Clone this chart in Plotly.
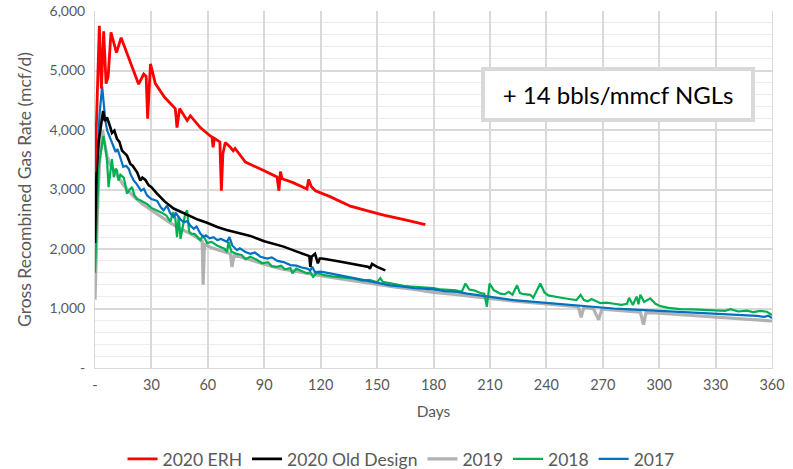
import plotly.graph_objects as go

# 2020 ERH
erh_days = [0, 1, 2.3, 3.4, 4.6, 5.9, 7, 8.5, 11.4, 13.9, 18, 23.2, 25.9, 27.2, 28, 28.8, 29.5,
            32.1, 37, 42.7, 43.6, 45, 49, 50.7, 56, 61.3, 62.2, 62.8, 63.5, 66.4, 67.2, 68, 69.3,
            72, 73.5, 74.5, 80, 89.7, 96.8, 97.8, 98.6, 99.5, 105, 112.7, 113.6, 115, 117.2, 125,
            135.8, 145, 153.5, 165, 175.7]
erh_rate = [3300, 4300, 5750, 4700, 5660, 4780, 4900, 5640, 5300, 5550, 5200, 4770, 4940, 4900,
            4190, 4700, 5110, 4780, 4550, 4360, 4040, 4360, 4160, 4240, 4040, 3900, 3880, 3710,
            3860, 3800, 2980, 3600, 3790, 3710, 3650, 3690, 3460, 3320, 3210, 2980, 3300, 3180,
            3120, 3010, 3170, 3050, 2980, 2880, 2720, 2640, 2570, 2490, 2410]

# 2020 Old Design
old_days = [0, 0.8, 2, 3.3, 4.3, 5.2, 6.4, 8.2, 9, 10.3, 11.7, 13, 14.4, 15.5, 17, 18.8, 20, 22.4,
            24.1, 25.2, 26.8, 28.6, 30, 33, 37, 41.8, 47.2, 50.7, 55, 59.6, 65, 70, 76, 82.6, 90,
            100.3, 107, 112.8, 114, 114.5, 115.2, 117, 118.5, 119.5, 120.7, 130, 140, 145.5, 146.2,
            147.3, 150, 154.4]
old_rate = [2100, 3300, 3820, 4150, 4320, 4150, 4210, 4040, 3950, 3990, 3850, 3800, 3650, 3620,
            3570, 3430, 3400, 3290, 3150, 3200, 3160, 3070, 3040, 2930, 2800, 2680, 2600, 2540,
            2490, 2440, 2370, 2320, 2270, 2220, 2130, 2040, 1960, 1900, 1880, 1700, 1870, 1920,
            1760, 1840, 1840, 1790, 1730, 1700, 1670, 1750, 1700, 1640]

# 2019
y2019_days = [0, 0.5, 1.5, 2.5, 4, 5, 6.5, 8, 10, 12, 15, 18, 21, 25, 30, 35, 40, 45, 50, 54, 57,
              57.5, 58.2, 62, 66, 70, 72, 72.8, 74, 80, 85, 90, 95, 100, 110, 120, 130, 140, 150,
              160, 170, 180, 190, 200, 210, 220, 230, 240, 250, 257, 258.5, 260, 265, 267.8, 269.5,
              275, 280, 285, 290, 291.7, 293, 300, 310, 320, 330, 340, 350, 360]
y2019_rate = [1150, 1800, 2800, 3500, 4000, 3800, 3550, 3420, 3320, 3230, 3080, 2970, 2870, 2760,
              2650, 2550, 2440, 2350, 2260, 2200, 2130, 1400, 2080, 2020, 1980, 1940, 1920, 1700,
              1900, 1840, 1790, 1740, 1700, 1660, 1600, 1550, 1500, 1450, 1400, 1360, 1320, 1270,
              1240, 1210, 1170, 1130, 1100, 1070, 1050, 1030, 850, 1020, 1000, 810, 990, 975, 960,
              950, 940, 730, 930, 920, 900, 880, 860, 840, 820, 790]

# 2018
y2018_days = [0, 1, 2, 3.5, 4.5, 5.5, 6.4, 7.2, 8, 9, 10, 11, 11.7, 12.5, 13.5, 15.3, 16, 17, 18.5,
              19.7, 21, 22.4, 24, 25.9, 28, 30, 33, 36, 38, 40.1, 41.5, 42.7, 43.6, 44.5, 45.5, 47,
              48, 49, 50, 51, 53, 56, 57.5, 59.6, 62, 64.9, 67, 69, 70.2, 71, 72.5, 75, 78, 80, 82.6,
              86, 89, 92, 94, 96.8, 99, 101, 103.9, 105, 107, 110, 112.8, 114.5, 116, 118, 122, 126,
              130, 134, 138, 142, 146, 150, 151.7, 153, 157, 160, 164, 168, 172, 176, 180, 184, 188,
              192, 195, 197, 199, 202, 204.9, 207, 208.4, 209.8, 212, 215.5, 218, 220, 222, 224.4,
              226, 228, 231.5, 233, 236.8, 239, 241, 243.9, 248, 252, 256, 258.2, 260, 262, 264,
              268.8, 272, 276, 280, 282.9, 284, 286, 288, 289, 290, 292, 295.3, 298, 300.6, 305,
              311.2, 318, 325, 328.9, 335, 338, 342, 346.7, 350, 354, 357.3, 360]
y2018_rate = [1600, 2600, 3400, 3700, 3900, 3700, 3480, 3040, 3300, 3510, 3210, 3350, 3320, 3150,
              3250, 3200, 3100, 2930, 3000, 3040, 2900, 2840, 2820, 2790, 2750, 2690, 2650, 2600,
              2560, 2460, 2620, 2520, 2200, 2540, 2170, 2400, 2600, 2650, 2300, 2260, 2250, 2150,
              2230, 2100, 2120, 2060, 2030, 2000, 1950, 2120, 1960, 1920, 1900, 1830, 1870, 1820,
              1760, 1780, 1710, 1700, 1720, 1660, 1680, 1590, 1670, 1630, 1590, 1610, 1530, 1600,
              1560, 1540, 1530, 1510, 1500, 1470, 1480, 1440, 1510, 1450, 1420, 1410, 1380, 1370,
              1365, 1350, 1345, 1320, 1310, 1305, 1280, 1420, 1320, 1300, 1260, 1250, 1030, 1420,
              1310, 1250, 1240, 1280, 1230, 1390, 1260, 1240, 1230, 1180, 1420, 1270, 1220, 1200,
              1180, 1160, 1140, 1230, 1140, 1120, 1160, 1090, 1100, 1080, 1060, 1080, 1180, 1060,
              1200, 1070, 1230, 1110, 1170, 1080, 1040, 1010, 990, 985, 975, 975, 960, 990, 950,
              965, 940, 960, 945, 890]

# 2017
y2017_days = [0, 1.4, 2.5, 3.8, 4.6, 5.5, 6.5, 8.2, 9.5, 11, 12, 13.5, 15, 16.5, 17.9, 19, 20.6, 22,
              23.2, 24.5, 26, 27.7, 30, 33, 35, 36.5, 38.3, 40, 41.8, 43, 45.4, 47.2, 49, 50.5, 52.5,
              54, 56, 57.8, 59, 61, 63, 65, 67, 70.2, 71.5, 73, 75.5, 77, 80, 82.6, 85, 88, 91.5, 94,
              97, 100.3, 103.9, 107, 110, 112.8, 114.5, 115.5, 117, 120, 125, 130, 135, 139.3, 145,
              150, 157, 163, 170, 174.8, 180, 186, 192.5, 198, 204.9, 210.2, 216, 222.6, 230, 236,
              240.4, 246, 252, 258.2, 264, 270, 275.8, 282, 288, 293.5, 300, 305, 311.2, 318, 323,
              328.9, 335, 340, 346.7, 352, 356, 358, 360]
y2017_rate = [2700, 3700, 4300, 4730, 4450, 4160, 3990, 3850, 3740, 3630, 3680, 3540, 3380, 3400,
              3350, 3250, 3150, 3100, 3040, 2980, 3010, 2900, 2840, 2810, 2700, 2650, 2730, 2600,
              2540, 2600, 2500, 2450, 2470, 2400, 2340, 2380, 2260, 2200, 2230, 2180, 2200, 2150,
              2170, 2120, 2200, 2060, 1980, 2010, 1950, 1920, 1940, 1870, 1840, 1860, 1800, 1780,
              1730, 1720, 1690, 1670, 1640, 1700, 1610, 1620, 1590, 1560, 1530, 1500, 1470, 1440,
              1390, 1370, 1340, 1335, 1320, 1290, 1280, 1250, 1223, 1195, 1170, 1140, 1120, 1100,
              1085, 1070, 1060, 1040, 1030, 1015, 1000, 990, 980, 972, 960, 955, 944, 930, 925, 916,
              905, 900, 888, 875, 860, 880, 840]

x_ticks = list(range(0, 361, 30))
x_labels = ["-"] + [str(v) for v in x_ticks[1:]]
y_ticks = list(range(0, 6001, 1000))
y_labels = ["-"] + [f"{v:,}" for v in y_ticks[1:]]

FONT = "Lato, 'Open Sans', sans-serif"
GRID = "#d9d9d9"
TEXT = "#595959"

series = [
    # name, days, rate, colour, width, legend rank
    ("2019", y2019_days, y2019_rate, "rgba(165,165,165,0.85)", 3.2, 3),
    ("2018", y2018_days, y2018_rate, "#00b050", 2.2, 4),
    ("2017", y2017_days, y2017_rate, "#0070c0", 2.2, 5),
    ("2020 Old Design", old_days, old_rate, "#000000", 2.6, 2),
    ("2020 ERH", erh_days, erh_rate, "#ff0000", 2.8, 1),
]

fig = go.Figure()
for name, days, rate, color, width, rank in series:
    fig.add_trace(
        go.Scatter(
            x=days,
            y=rate,
            name=name,
            mode="lines",
            line={"color": color, "width": width},
            legendrank=rank,
        )
    )

fig.update_xaxes(
    range=[0, 360],
    tickvals=x_ticks,
    ticktext=x_labels,
    showgrid=True,
    gridcolor=GRID,
    gridwidth=1.5,
    showline=True,
    linecolor=GRID,
    zeroline=False,
    ticks="",
    automargin=False,
    ticklabelstandoff=4,
    ticklabeloverflow="allow",
    tickfont={"size": 14.5, "color": TEXT},
    title={"text": "Days", "font": {"size": 15.5, "color": TEXT}, "standoff": 13},
)
fig.update_yaxes(
    range=[0, 6000],
    tickvals=y_ticks,
    ticktext=y_labels,
    showgrid=True,
    gridcolor=GRID,
    gridwidth=1.5,
    minor={"dtick": 200, "showgrid": True, "gridcolor": "#ececec", "gridwidth": 1},
    showline=True,
    linecolor=GRID,
    mirror=True,
    zeroline=False,
    ticks="",
    automargin=False,
    ticklabelstandoff=6,
    ticklabeloverflow="allow",
    tickfont={"size": 14, "color": TEXT},
    title={"text": "Gross Recombined Gas Rate (mcf/d)", "font": {"size": 17.5, "color": TEXT}, "standoff": 13},
)

fig.add_annotation(
    text="+ 14 bbls/mmcf NGLs",
    xref="paper",
    yref="paper",
    x=0.773,
    y=0.7655,
    xanchor="center",
    yanchor="middle",
    showarrow=False,
    font={"size": 24, "color": "#000000", "family": FONT},
    bgcolor="white",
    bordercolor=GRID,
    borderwidth=4,
    borderpad=0,
    width=266,
    height=47,
)

fig.update_layout(
    width=793,
    height=469,
    margin={"l": 95, "r": 21, "t": 11, "b": 101, "autoexpand": False},
    plot_bgcolor="white",
    paper_bgcolor="white",
    font={"family": FONT, "color": TEXT},
    showlegend=True,
    legend={
        "orientation": "h",
        "x": 0.452,
        "xanchor": "center",
        "y": -0.255,
        "yanchor": "middle",
        "font": {"size": 17.5, "color": TEXT},
        "itemwidth": 30,
        "tracegroupgap": 0,
    },
)

# drop the default 8px body margin so the figure fills the window exactly
fig.write_html(
    "out.html",
    config={"displayModeBar": False},
    post_script="document.body.style.margin = '0';",
)
